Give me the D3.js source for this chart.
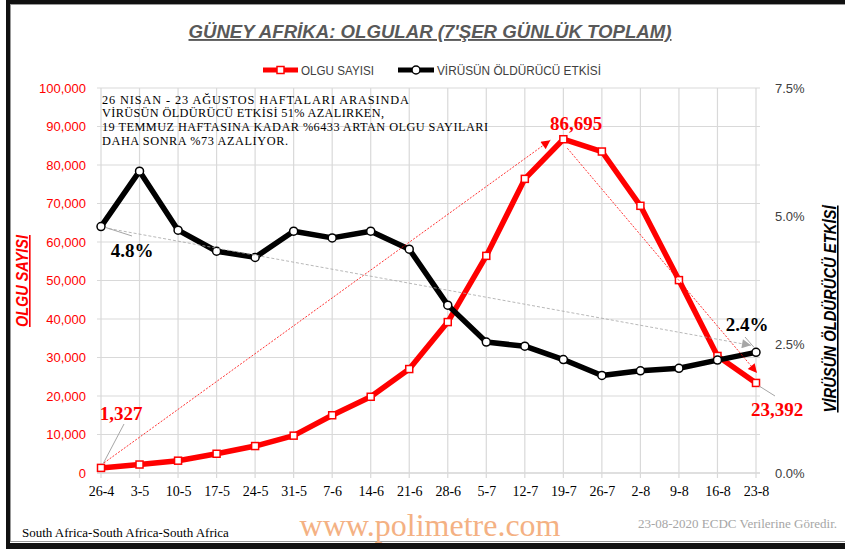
<!DOCTYPE html>
<html>
<head>
<meta charset="utf-8">
<script src="https://cdn.jsdelivr.net/npm/d3@7"></script>
<style>
  body { margin: 0; background: #fff; }
  svg { display: block; }
</style>
</head>
<body>
<div id="chart"></div>
<script>
const W = 845, H = 549;

// data
const weeks = ['26-4','3-5','10-5','17-5','24-5','31-5','7-6','14-6','21-6','28-6','5-7','12-7','19-7','26-7','2-8','9-8','16-8','23-8'];
const cases = [1327, 2200, 3200, 5000, 7000, 9700, 15000, 19800, 27000, 39200, 56400, 76400, 86695, 83500, 69400, 50100, 30400, 23392];
const fatality = [4.80, 5.88, 4.73, 4.32, 4.20, 4.71, 4.58, 4.71, 4.36, 3.27, 2.55, 2.47, 2.21, 1.90, 1.99, 2.04, 2.20, 2.35];
const leftTicks = [0,10000,20000,30000,40000,50000,60000,70000,80000,90000,100000];
const rightTicks = [0, 2.5, 5.0, 7.5];
const noteLines = [
  '26 NISAN - 23 AĞUSTOS  HAFTALARI ARASINDA',
  'VİRÜSÜN  ÖLDÜRÜCÜ  ETKİSİ  51% AZALIRKEN,',
  '19 TEMMUZ HAFTASINA KADAR %6433  ARTAN OLGU  SAYILARI',
  'DAHA SONRA  %73 AZALIYOR.'
];

const svg = d3.select('#chart').append('svg').attr('width', W).attr('height', H);

// frame
svg.append('rect').attr('x',0).attr('y',0).attr('width',W).attr('height',H).attr('fill','#fff');
svg.append('rect').attr('x',6).attr('y',0).attr('width',W-6).attr('height',4).attr('fill','#111');
svg.append('rect').attr('x',6).attr('y',0).attr('width',4).attr('height',H).attr('fill','#111');
svg.append('rect').attr('x',6).attr('y',543).attr('width',W-6).attr('height',6).attr('fill','#111');
svg.append('rect').attr('x',10.5).attr('y',4.5).attr('width',W).attr('height',537)
  .attr('fill','none').attr('stroke','#999');

// scales
const x = d3.scalePoint().domain(weeks).range([101, 756]);
const yL = d3.scaleLinear().domain([0,100000]).range([473, 88]);
const yR = d3.scaleLinear().domain([0,7.5]).range([473, 88]);

// grid
const grid = svg.append('g');
grid.selectAll('.hg').data(leftTicks).join('line')
  .attr('x1', 97).attr('x2', 760)
  .attr('y1', d => yL(d)).attr('y2', d => yL(d))
  .attr('stroke', d => d === 0 ? '#bfbfbf' : '#d9d9d9').attr('stroke-width', 1.2);
grid.selectAll('.vg').data(weeks).join('line')
  .attr('x1', d => x(d)).attr('x2', d => x(d))
  .attr('y1', 88).attr('y2', 478)
  .attr('stroke', '#d9d9d9').attr('stroke-width', 1.2);

// axes
const axL = svg.append('g').attr('transform','translate(86,0)')
  .call(d3.axisLeft(yL).tickValues(leftTicks).tickSize(0).tickPadding(0).tickFormat(d3.format(',')));
axL.select('.domain').remove();
axL.selectAll('text').attr('fill','#ff0000').style('font-family','Liberation Sans, Arial, sans-serif').style('font-size','13px');

const axR = svg.append('g').attr('transform','translate(775,0)')
  .call(d3.axisRight(yR).tickValues(rightTicks).tickSize(0).tickPadding(0).tickFormat(d => d.toFixed(1) + '%'));
axR.select('.domain').remove();
axR.selectAll('text').attr('fill','#404040').style('font-family','Liberation Sans, Arial, sans-serif').style('font-size','13px');

const axB = svg.append('g').attr('transform','translate(0,486)')
  .call(d3.axisBottom(x).tickSize(0).tickPadding(0));
axB.select('.domain').remove();
axB.selectAll('text').attr('fill','#000').style('font-family','Liberation Serif, Times New Roman, serif').style('font-size','14px');

// title
svg.append('text').attr('x', 430).attr('y', 38).attr('text-anchor','middle')
  .attr('textLength', 483).attr('lengthAdjust','spacingAndGlyphs')
  .style('font-family','Liberation Sans Narrow, Liberation Sans, Arial, sans-serif')
  .style('font-size','19px').style('font-weight','bold').style('font-style','italic')
  .style('text-decoration','underline').attr('fill','#595959')
  .text("GÜNEY AFRİKA: OLGULAR (7'ŞER GÜNLÜK TOPLAM)");

// legend
const leg = svg.append('g').style('font-family','Liberation Sans Narrow, Liberation Sans, Arial, sans-serif').style('font-size','12px');
leg.append('line').attr('x1',263).attr('x2',298).attr('y1',70).attr('y2',70).attr('stroke','#ff0000').attr('stroke-width',5);
leg.append('rect').attr('x',277).attr('y',66.5).attr('width',7).attr('height',7).attr('fill','#fff').attr('stroke','#ff0000').attr('stroke-width',1.5);
leg.append('text').attr('x',301).attr('y',74.5).attr('textLength',73).attr('lengthAdjust','spacingAndGlyphs').attr('fill','#404040').text('OLGU SAYISI');
leg.append('line').attr('x1',398).attr('x2',434).attr('y1',70).attr('y2',70).attr('stroke','#000').attr('stroke-width',5);
leg.append('circle').attr('cx',416).attr('cy',70).attr('r',4).attr('fill','#fff').attr('stroke','#000').attr('stroke-width',1.5);
leg.append('text').attr('x',437).attr('y',74.5).attr('textLength',164).attr('lengthAdjust','spacingAndGlyphs').attr('fill','#404040').text('VİRÜSÜN ÖLDÜRÜCÜ ETKİSİ');

// axis titles
svg.append('text').attr('transform','translate(28,281) rotate(-90)').attr('text-anchor','middle')
  .attr('textLength', 92).attr('lengthAdjust','spacingAndGlyphs')
  .style('font-family','Liberation Sans, Arial, sans-serif').style('font-size','16px')
  .style('font-weight','bold').style('font-style','italic').style('text-decoration','underline')
  .attr('fill','#ff0000').text('OLGU SAYISI');
svg.append('text').attr('transform','translate(836,309) rotate(-90)').attr('text-anchor','middle')
  .attr('textLength', 207).attr('lengthAdjust','spacingAndGlyphs')
  .style('font-family','Liberation Sans, Arial, sans-serif').style('font-size','16px')
  .style('font-weight','bold').style('font-style','italic').style('text-decoration','underline')
  .attr('fill','#000').text('VİRÜSÜN ÖLDÜRÜCÜ ETKİSİ');

// note text block (justified lines)
const noteWidths = [307, 282, 386, 186];
noteLines.forEach((t, i) => {
  svg.append('text').attr('x', 102).attr('y', 103.5 + i * 13.7)
    .style('font-family','Liberation Serif, Times New Roman, serif').style('font-size','12.3px')
    .attr('fill','#000').attr('textLength', noteWidths[i]).attr('lengthAdjust','spacing')
    .text(t);
});

// arrow markers
const defs = svg.append('defs');
function marker(id, color){
  defs.append('marker').attr('id', id).attr('viewBox','0 0 10 10').attr('refX',10).attr('refY',5)
    .attr('markerWidth',11).attr('markerHeight',9).attr('markerUnits','userSpaceOnUse').attr('orient','auto')
    .append('path').attr('d','M0,0 L10,5 L0,10 Z').attr('fill', color);
}
marker('arRed','#ff0000');
marker('arGray','#a6a6a6');

// series: cases (left)
const lineL = d3.line().x((d,i) => x(weeks[i])).y(d => yL(d));
svg.append('path').datum(cases).attr('d', lineL).attr('fill','none')
  .attr('stroke','#ff0000').attr('stroke-width',5.5).attr('stroke-linejoin','round');
svg.selectAll('.sq').data(cases).join('rect')
  .attr('x', (d,i) => x(weeks[i]) - 3.5).attr('y', d => yL(d) - 3.5)
  .attr('width',7).attr('height',7).attr('fill','#fff').attr('stroke','#ff0000').attr('stroke-width',1.5);

// series: fatality (right)
const lineR = d3.line().x((d,i) => x(weeks[i])).y(d => yR(d));
svg.append('path').datum(fatality).attr('d', lineR).attr('fill','none')
  .attr('stroke','#000').attr('stroke-width',5.5).attr('stroke-linejoin','round');
svg.selectAll('.ci').data(fatality).join('circle')
  .attr('cx', (d,i) => x(weeks[i])).attr('cy', d => yR(d)).attr('r',4)
  .attr('fill','#fff').attr('stroke','#000').attr('stroke-width',1.5);

// trend arrows
const first = 0, peak = cases.indexOf(d3.max(cases)), last = weeks.length - 1;
svg.append('line')
  .attr('x1', x(weeks[first]) + 3).attr('y1', yL(cases[first]) - 5)
  .attr('x2', x(weeks[peak]) - 13).attr('y2', yL(cases[peak]) + 1)
  .attr('stroke','#ff0000').attr('stroke-width',0.8).attr('stroke-dasharray','2,1.5')
  .attr('marker-end','url(#arRed)');
svg.append('line')
  .attr('x1', x(weeks[peak]) + 4).attr('y1', yL(cases[peak]) + 9)
  .attr('x2', x(weeks[last]) + 1).attr('y2', yL(cases[last]) - 10)
  .attr('stroke','#ff0000').attr('stroke-width',0.8).attr('stroke-dasharray','2,1.5')
  .attr('marker-end','url(#arRed)');
svg.append('line')
  .attr('x1', x(weeks[first]) + 8).attr('y1', yR(fatality[first]) + 2)
  .attr('x2', x(weeks[last]) - 5).attr('y2', yR(fatality[last]) - 7)
  .attr('stroke','#a6a6a6').attr('stroke-width',0.8).attr('stroke-dasharray','3,2')
  .attr('marker-end','url(#arGray)');

// data labels with leader lines
const lab = svg.append('g').style('font-family','Liberation Serif, Times New Roman, serif')
  .style('font-size','19px').style('font-weight','bold');
function leader(x1,y1,x2,y2){
  svg.append('line').attr('x1',x1).attr('y1',y1).attr('x2',x2).attr('y2',y2)
    .attr('stroke','#a6a6a6').attr('stroke-width',1);
}
const fmt = d3.format(',');
leader(x(weeks[first]) + 2, yL(cases[first]) - 4, 124, 424);
lab.append('text').attr('x',121).attr('y',420).attr('text-anchor','middle').attr('fill','#ff0000').text(fmt(cases[first]));
lab.append('text').attr('x',576).attr('y',130).attr('text-anchor','middle').attr('fill','#ff0000').text(fmt(cases[peak]));
leader(x(weeks[last]) + 3, yL(cases[last]) + 3, 775, 396);
lab.append('text').attr('x',777).attr('y',416).attr('text-anchor','middle').attr('fill','#ff0000').text(fmt(cases[last]));
leader(x(weeks[first]) + 5, yR(fatality[first]) + 1, 132, 236);
lab.append('text').attr('x',132).attr('y',257).attr('text-anchor','middle').attr('fill','#000').text(fatality[first].toFixed(1) + '%');
leader(x(weeks[last]) - 2, yR(fatality[last]) - 5, 745, 337);
lab.append('text').attr('x',747).attr('y',331).attr('text-anchor','middle').attr('fill','#000').text('2.4%');

// footer
svg.append('text').attr('x',22).attr('y',537)
  .style('font-family','Liberation Serif, Times New Roman, serif').style('font-size','13px')
  .attr('fill','#000').text('South Africa-South Africa-South Africa');
svg.append('text').attr('x',430).attr('y',536).attr('text-anchor','middle')
  .style('font-family','Liberation Serif, Times New Roman, serif').style('font-size','32px')
  .attr('fill','#f4b183').text('www.polimetre.com');
svg.append('text').attr('x',837).attr('y',528).attr('text-anchor','end')
  .style('font-family','Liberation Serif, Times New Roman, serif').style('font-size','13px')
  .attr('fill','#a6a6a6').text('23-08-2020  ECDC Verilerine  Göredir.');
</script>
</body>
</html>
